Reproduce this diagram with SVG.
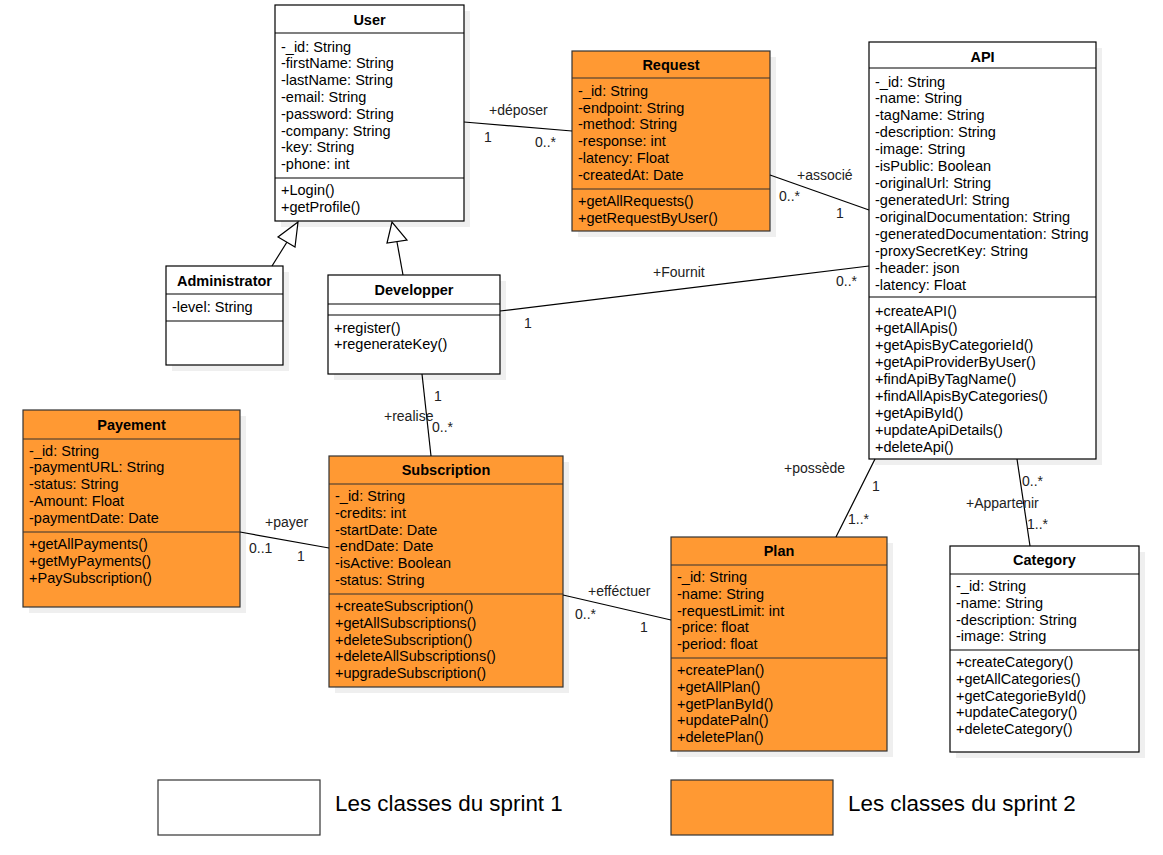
<svg xmlns="http://www.w3.org/2000/svg" width="1163" height="855" viewBox="0 0 1163 855">
<style>
text{font-family:"Liberation Sans",Arial,sans-serif;font-size:14.5px;fill:#000}
.t{font-weight:bold;text-anchor:middle}
.lbl{font-size:14px;fill:#222}
.w{fill:#fff;stroke:#000;stroke-width:1.2}
.o{fill:#FF9933;stroke:#333;stroke-width:1.2}
.sh{fill:#EFEFEF}
.dv{stroke:#000;stroke-width:1.2}
.dvo{stroke:#333;stroke-width:1.2}
.c{stroke:#000;stroke-width:1.2;fill:none}
.leg{font-size:22.4px}
</style>
<rect width="1163" height="855" fill="#fff"/>

<g id="User">
<rect class="sh" x="281" y="11" width="189" height="216"/>
<rect class="w" x="275" y="5" width="189" height="216"/>
<line class="dv" x1="275" y1="33" x2="464" y2="33"/>
<line class="dv" x1="275" y1="178" x2="464" y2="178"/>
<text class="t" x="369.5" y="25">User</text>
<text x="281" y="51.5">-_id: String<tspan x="281" dy="16.8">-firstName: String</tspan><tspan x="281" dy="16.8">-lastName: String</tspan><tspan x="281" dy="16.8">-email: String</tspan><tspan x="281" dy="16.8">-password: String</tspan><tspan x="281" dy="16.8">-company: String</tspan><tspan x="281" dy="16.8">-key: String</tspan><tspan x="281" dy="16.8">-phone: int</tspan></text>
<text x="281" y="195">+Login()<tspan x="281" dy="16.8">+getProfile()</tspan></text>
</g>

<g id="Request">
<rect class="sh" x="578" y="57" width="198" height="180"/>
<rect class="o" x="572" y="51" width="198" height="180"/>
<line class="dvo" x1="572" y1="78" x2="770" y2="78"/>
<line class="dvo" x1="572" y1="189" x2="770" y2="189"/>
<text class="t" x="671" y="70">Request</text>
<text x="578" y="95.7">-_id: String<tspan x="578" dy="16.85">-endpoint: String</tspan><tspan x="578" dy="16.85">-method: String</tspan><tspan x="578" dy="16.85">-response: int</tspan><tspan x="578" dy="16.85">-latency: Float</tspan><tspan x="578" dy="16.85">-createdAt: Date</tspan></text>
<text x="578" y="206">+getAllRequests()<tspan x="578" dy="16.85">+getRequestByUser()</tspan></text>
</g>

<g id="API">
<rect class="sh" x="875" y="48" width="227" height="417"/>
<rect class="w" x="869" y="42" width="227" height="417"/>
<line class="dv" x1="869" y1="68" x2="1096" y2="68"/>
<line class="dv" x1="869" y1="297" x2="1096" y2="297"/>
<text class="t" x="982.5" y="62">API</text>
<text x="875" y="86.5">-_id: String<tspan x="875" dy="16.94">-name: String</tspan><tspan x="875" dy="16.94">-tagName: String</tspan><tspan x="875" dy="16.94">-description: String</tspan><tspan x="875" dy="16.94">-image: String</tspan><tspan x="875" dy="16.94">-isPublic: Boolean</tspan><tspan x="875" dy="16.94">-originalUrl: String</tspan><tspan x="875" dy="16.94">-generatedUrl: String</tspan><tspan x="875" dy="16.94">-originalDocumentation: String</tspan><tspan x="875" dy="16.94">-generatedDocumentation: String</tspan><tspan x="875" dy="16.94">-proxySecretKey: String</tspan><tspan x="875" dy="16.94">-header: json</tspan><tspan x="875" dy="16.94">-latency: Float</tspan></text>
<text x="875" y="316">+createAPI()<tspan x="875" dy="16.96">+getAllApis()</tspan><tspan x="875" dy="16.96">+getApisByCategorieId()</tspan><tspan x="875" dy="16.96">+getApiProviderByUser()</tspan><tspan x="875" dy="16.96">+findApiByTagName()</tspan><tspan x="875" dy="16.96">+findAllApisByCategories()</tspan><tspan x="875" dy="16.96">+getApiById()</tspan><tspan x="875" dy="16.96">+updateApiDetails()</tspan><tspan x="875" dy="16.96">+deleteApi()</tspan></text>
</g>

<g id="Administrator">
<rect class="sh" x="172" y="272" width="117" height="99"/>
<rect class="w" x="166" y="266" width="117" height="99"/>
<line class="dv" x1="166" y1="294" x2="283" y2="294"/>
<line class="dv" x1="166" y1="321" x2="283" y2="321"/>
<text class="t" x="224.5" y="285.5">Administrator</text>
<text x="172" y="311.5">-level: String</text>
</g>

<g id="Developper">
<rect class="sh" x="334" y="281" width="172" height="99"/>
<rect class="w" x="328" y="275" width="172" height="99"/>
<line class="dv" x1="328" y1="304" x2="500" y2="304"/>
<line class="dv" x1="328" y1="315" x2="500" y2="315"/>
<text class="t" x="414" y="295">Developper</text>
<text x="334" y="332.5">+register()<tspan x="334" dy="16.8">+regenerateKey()</tspan></text>
</g>

<g id="Payement">
<rect class="sh" x="29" y="416" width="217" height="197"/>
<rect class="o" x="23" y="410" width="217" height="197"/>
<line class="dvo" x1="23" y1="439" x2="240" y2="439"/>
<line class="dvo" x1="23" y1="532" x2="240" y2="532"/>
<text class="t" x="131.5" y="430">Payement</text>
<text x="29" y="455.5">-_id: String<tspan x="29" dy="16.8">-paymentURL: String</tspan><tspan x="29" dy="16.8">-status: String</tspan><tspan x="29" dy="16.8">-Amount: Float</tspan><tspan x="29" dy="16.8">-paymentDate: Date</tspan></text>
<text x="29" y="549">+getAllPayments()<tspan x="29" dy="16.8">+getMyPayments()</tspan><tspan x="29" dy="16.8">+PaySubscription()</tspan></text>
</g>

<g id="Subscription">
<rect class="sh" x="335" y="462" width="234" height="231"/>
<rect class="o" x="329" y="456" width="234" height="231"/>
<line class="dvo" x1="329" y1="484" x2="563" y2="484"/>
<line class="dvo" x1="329" y1="594" x2="563" y2="594"/>
<text class="t" x="446" y="475">Subscription</text>
<text x="335" y="501">-_id: String<tspan x="335" dy="16.8">-credits: int</tspan><tspan x="335" dy="16.8">-startDate: Date</tspan><tspan x="335" dy="16.8">-endDate: Date</tspan><tspan x="335" dy="16.8">-isActive: Boolean</tspan><tspan x="335" dy="16.8">-status: String</tspan></text>
<text x="335" y="611">+createSubscription()<tspan x="335" dy="16.8">+getAllSubscriptions()</tspan><tspan x="335" dy="16.8">+deleteSubscription()</tspan><tspan x="335" dy="16.8">+deleteAllSubscriptions()</tspan><tspan x="335" dy="16.8">+upgradeSubscription()</tspan></text>
</g>

<g id="Plan">
<rect class="sh" x="677" y="543" width="216" height="214"/>
<rect class="o" x="671" y="537" width="216" height="214"/>
<line class="dvo" x1="671" y1="565" x2="887" y2="565"/>
<line class="dvo" x1="671" y1="658" x2="887" y2="658"/>
<text class="t" x="779" y="556">Plan</text>
<text x="677" y="582">-_id: String<tspan x="677" dy="16.8">-name: String</tspan><tspan x="677" dy="16.8">-requestLimit: int</tspan><tspan x="677" dy="16.8">-price: float</tspan><tspan x="677" dy="16.8">-period: float</tspan></text>
<text x="677" y="675">+createPlan()<tspan x="677" dy="16.8">+getAllPlan()</tspan><tspan x="677" dy="16.8">+getPlanById()</tspan><tspan x="677" dy="16.8">+updatePaln()</tspan><tspan x="677" dy="16.8">+deletePlan()</tspan></text>
</g>

<g id="Category">
<rect class="sh" x="956" y="552" width="189" height="206"/>
<rect class="w" x="950" y="546" width="189" height="206"/>
<line class="dv" x1="950" y1="574" x2="1139" y2="574"/>
<line class="dv" x1="950" y1="650" x2="1139" y2="650"/>
<text class="t" x="1044.5" y="565">Category</text>
<text x="956" y="591">-_id: String<tspan x="956" dy="16.8">-name: String</tspan><tspan x="956" dy="16.8">-description: String</tspan><tspan x="956" dy="16.8">-image: String</tspan></text>
<text x="956" y="667">+createCategory()<tspan x="956" dy="16.8">+getAllCategories()</tspan><tspan x="956" dy="16.8">+getCategorieById()</tspan><tspan x="956" dy="16.8">+updateCategory()</tspan><tspan x="956" dy="16.8">+deleteCategory()</tspan></text>
</g>

<g id="legend">
<rect x="158" y="780" width="162" height="55" fill="#fff" stroke="#333" stroke-width="1.2"/>
<text class="leg" x="335" y="811">Les classes du sprint 1</text>
<rect x="671" y="780" width="162" height="55" fill="#FF9933" stroke="#333" stroke-width="1.2"/>
<text class="leg" x="848" y="811">Les classes du sprint 2</text>
</g>

<g id="connectors">
<line class="c" x1="464" y1="122" x2="572" y2="131"/>
<text class="lbl" x="489" y="115">+déposer</text>
<text class="lbl" x="484" y="142">1</text>
<text class="lbl" x="535" y="147">0..*</text>

<line class="c" x1="770" y1="175" x2="869" y2="210"/>
<text class="lbl" x="797" y="180">+associé</text>
<text class="lbl" x="779" y="201">0..*</text>
<text class="lbl" x="836" y="218">1</text>

<line class="c" x1="500" y1="311" x2="869" y2="266"/>
<text class="lbl" x="653" y="277">+Fournit</text>
<text class="lbl" x="524" y="328">1</text>
<text class="lbl" x="836" y="286">0..*</text>

<line class="c" x1="422" y1="374" x2="431" y2="456"/>
<text class="lbl" x="434" y="401">1</text>
<text class="lbl" x="384" y="421">+realise</text>
<text class="lbl" x="432" y="432">0..*</text>

<line class="c" x1="240" y1="532" x2="329" y2="548"/>
<text class="lbl" x="265" y="527">+payer</text>
<text class="lbl" x="249" y="553">0..1</text>
<text class="lbl" x="297" y="561">1</text>

<line class="c" x1="563" y1="595" x2="671" y2="620"/>
<text class="lbl" x="588" y="596">+efféctuer</text>
<text class="lbl" x="575" y="619">0..*</text>
<text class="lbl" x="640" y="632">1</text>

<line class="c" x1="875" y1="459" x2="836" y2="537"/>
<text class="lbl" x="784" y="473">+possède</text>
<text class="lbl" x="872" y="491">1</text>
<text class="lbl" x="848" y="524">1..*</text>

<line class="c" x1="1017" y1="459" x2="1030" y2="546"/>
<text class="lbl" x="1022" y="486">0..*</text>
<text class="lbl" x="966" y="508">+Appartenir</text>
<text class="lbl" x="1027" y="529">1..*</text>

<line class="c" x1="272" y1="266" x2="287" y2="242"/>
<polygon points="298,222 278,237 295,247" fill="#fff" stroke="#000" stroke-width="1.2"/>
<line class="c" x1="403" y1="275" x2="397" y2="242"/>
<polygon points="392,222 387,243 407,240" fill="#fff" stroke="#000" stroke-width="1.2"/>
</g>
</svg>
